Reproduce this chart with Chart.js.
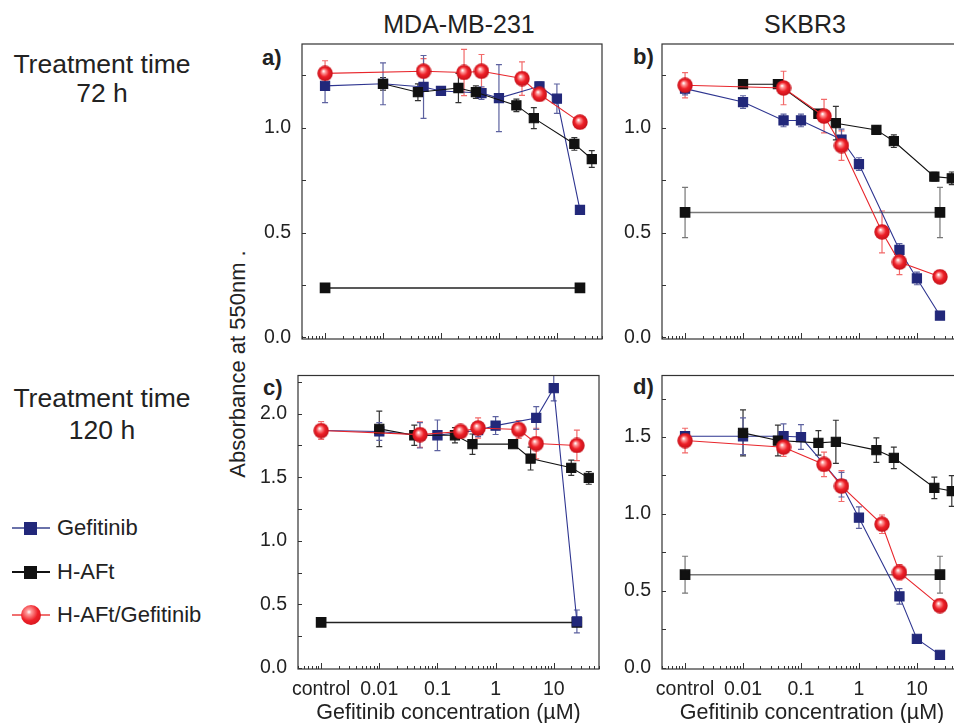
<!DOCTYPE html>
<html lang="en">
<head>
<meta charset="UTF-8">
<title>Absorbance vs Gefitinib concentration</title>
<script src="https://cdn.jsdelivr.net/npm/chart.js"></script>
<style>
  html, body { margin: 0; padding: 0; background: #fff; }
  body {
    width: 954px; height: 723px; overflow: hidden; position: relative;
    font-family: "Liberation Sans", Arial, Helvetica, sans-serif; color: #222;
  }
  .lbl { position: absolute; transform: translate(-50%, -50%); white-space: nowrap; line-height: 1; }
  .letter { position: absolute; font-weight: bold; font-size: 22px; line-height: 1; transform: translateY(-50%); }
  canvas { position: absolute; }
  .leg { position: absolute; left: 0; height: 0; }
  .leg .ln { position: absolute; left: 12px; width: 38px; height: 1.5px; top: -0.75px; }
  .leg .sq { position: absolute; left: 24px; width: 13px; height: 13px; top: -6.5px; }
  .leg .ball { position: absolute; left: 21px; width: 20px; height: 20px; top: -10px; border-radius: 50%;
    background: radial-gradient(circle at 40% 35%, #fff 0, #ff9a9a 14%, #ee2028 50%, #c4101a 100%); }
  .leg .txt { position: absolute; left: 57px; top: 0; transform: translateY(-50%); font-size: 22px; line-height: 1; white-space: nowrap; }
</style>
</head>
<body>
  <div class="lbl" style="left:459px; top:24px; font-size:25px;">MDA-MB-231</div>
  <div class="lbl" style="left:805px; top:24px; font-size:25px;">SKBR3</div>

  <div class="lbl" style="left:102px; top:64px; font-size:26.5px;">Treatment time</div>
  <div class="lbl" style="left:102px; top:93px; font-size:26.5px;">72 h</div>
  <div class="lbl" style="left:102px; top:398px; font-size:26.5px;">Treatment time</div>
  <div class="lbl" style="left:102px; top:430px; font-size:26.5px;">120 h</div>

  <div class="lbl" style="left:238px; top:364px; font-size:22px; transform:translate(-50%,-50%) rotate(-90deg);">Absorbance at 550nm .</div>

  <div class="letter" style="left:262px; top:58px;">a)</div>
  <div class="letter" style="left:633px; top:57px;">b)</div>
  <div class="letter" style="left:263px; top:388px;">c)</div>
  <div class="letter" style="left:633px; top:387px;">d)</div>

  <div class="leg" style="top:528px">
    <div class="ln" style="background:#6a72aa"></div><div class="sq" style="background:#22287a"></div>
    <div class="txt">Gefitinib</div>
  </div>
  <div class="leg" style="top:572px">
    <div class="ln" style="background:#111"></div><div class="sq" style="background:#111"></div>
    <div class="txt">H-AFt</div>
  </div>
  <div class="leg" style="top:615px">
    <div class="ln" style="background:#f07070"></div><div class="ball"></div>
    <div class="txt">H-AFt/Gefitinib</div>
  </div>

  <canvas id="pa" width="380" height="330" style="left:232px; top:24px;"></canvas>
  <canvas id="pb" width="380" height="330" style="left:592px; top:24px;"></canvas>
  <canvas id="pc" width="381" height="371" style="left:228px; top:355px;"></canvas>
  <canvas id="pd" width="380" height="371" style="left:592px; top:355px;"></canvas>

<script>
Chart.defaults.font.family = '"Liberation Sans", Arial, Helvetica, sans-serif';
Chart.defaults.color = '#222';

// "control" is plotted one decade below 0.01 on the log axis
const CONTROL = 0.001;

const gefDose = [CONTROL, 0.01, 0.05, 0.1, 0.5, 1, 5, 10, 25];
const haftDose = [0.01, 0.04, 0.2, 0.4, 2, 4, 20, 40];
const comboDose = [CONTROL, 0.05, 0.25, 0.5, 2.5, 5, 25];
const ctrlDose = [CONTROL, 25];

const xTickValues = [CONTROL, 0.01, 0.1, 1, 10];
const xTickLabels = ['control', '0.01', '0.1', '1', '10'];
const yMajorTop = [0, 0.5, 1.0];
const yMajorC = [0, 0.5, 1.0, 1.5, 2.0];
const yMajorD = [0, 0.5, 1.0, 1.5];

// a) MDA-MB-231, 72 h
const gefA = [1.20, 1.21, 1.195, 1.176, 1.166, 1.142, 1.198, 1.139, 0.608];
const gefAErr = [0.08, 0.10, 0.15, 0.02, 0.03, 0.16, 0.02, 0.07, 0.02];
const haftA = [1.21, 1.17, 1.19, 1.17, 1.107, 1.046, 0.923, 0.851];
const haftAErr = [0.03, 0.04, 0.07, 0.03, 0.03, 0.05, 0.03, 0.04];
const comboA = [1.26, 1.27, 1.264, 1.27, 1.235, 1.16, 1.027];
const comboAErr = [0.06, 0.06, 0.11, 0.08, 0.08, 0.03, 0];
const ctrlA = [0.236, 0.236];
const ctrlAErr = [0, 0];

// b) SKBR3, 72 h
const gefB = [1.187, 1.123, 1.035, 1.035, 0.944, 0.827, 0.417, 0.281, 0.104];
const gefBErr = [0.03, 0.03, 0.03, 0.03, 0.05, 0.03, 0.03, 0.03, 0];
const haftB = [1.208, 1.208, 1.067, 1.022, 0.99, 0.936, 0.767, 0.759];
const haftBErr = [0.02, 0.02, 0.02, 0.08, 0.02, 0.03, 0.02, 0.03];
const comboB = [1.203, 1.19, 1.056, 0.915, 0.503, 0.359, 0.289];
const comboBErr = [0.06, 0.08, 0.08, 0.07, 0.1, 0.06, 0.03];
const ctrlB = [0.596, 0.596];
const ctrlBErr = [0.12, 0.12];

// c) MDA-MB-231, 120 h
const gefC = [1.867, 1.86, 1.83, 1.83, 1.87, 1.906, 1.966, 2.20, 0.366];
const gefCErr = [0.03, 0.07, 0.1, 0.12, 0.05, 0.07, 0.09, 0.1, 0.09];
const haftC = [1.88, 1.83, 1.83, 1.76, 1.76, 1.647, 1.574, 1.495];
const haftCErr = [0.14, 0.08, 0.06, 0.08, 0.02, 0.09, 0.06, 0.05];
const comboC = [1.867, 1.835, 1.86, 1.887, 1.875, 1.765, 1.75];
const comboCErr = [0.07, 0.1, 0.04, 0.08, 0.07, 0.12, 0.12];
const ctrlC = [0.358, 0.358];
const ctrlCErr = [0, 0];

// d) SKBR3, 120 h
const gefD = [1.505, 1.505, 1.505, 1.50, 1.19, 0.976, 0.464, 0.188, 0.084];
const gefDErr = [0.03, 0.12, 0.08, 0.08, 0.08, 0.07, 0.05, 0, 0];
const haftD = [1.527, 1.477, 1.462, 1.469, 1.415, 1.365, 1.17, 1.149];
const haftDErr = [0.15, 0.1, 0.08, 0.14, 0.08, 0.07, 0.07, 0.1];
const comboD = [1.477, 1.434, 1.322, 1.181, 0.933, 0.62, 0.404];
const comboDErr = [0.08, 0.06, 0.08, 0.1, 0.06, 0.05, 0];
const ctrlD = [0.605, 0.605];
const ctrlDErr = [0.12, 0.12];

const X_MIN = 0.0004, X_MAX = 60;

// log axis ticks at 1..9 x 10^n
const xTicks = [];
for (let d = -4; d <= 1; d++) {
  for (let m = 1; m <= 9; m++) {
    const v = +(m * Math.pow(10, d)).toPrecision(3);
    if (v >= X_MIN && v <= X_MAX) xTicks.push(v);
  }
}
function isDecade(v) {
  const l = Math.log10(v);
  return Math.abs(l - Math.round(l)) < 1e-6;
}
function xLabel(v) {
  const i = xTickValues.findIndex(t => Math.abs(t - v) / t < 1e-6);
  return i >= 0 ? xTickLabels[i] : '';
}

function sphere(d) {
  const c = document.createElement('canvas');
  c.width = c.height = d;
  const g = c.getContext('2d');
  const r = d / 2;
  const grd = g.createRadialGradient(r * 0.8, r * 0.72, 0.4, r, r, r);
  grd.addColorStop(0, '#ffffff');
  grd.addColorStop(0.18, '#ff9c9c');
  grd.addColorStop(0.55, '#ee2028');
  grd.addColorStop(1, '#c20f18');
  g.fillStyle = grd;
  g.beginPath();
  g.arc(r, r, r - 0.3, 0, Math.PI * 2);
  g.fill();
  return c;
}
const ball = sphere(16);

const errorBars = {
  id: 'errorBars',
  beforeDatasetsDraw(chart) {
    const ctx = chart.ctx, y = chart.scales.y;
    chart.data.datasets.forEach((ds, i) => {
      if (!ds.errors) return;
      const meta = chart.getDatasetMeta(i);
      ctx.save();
      ctx.strokeStyle = ds.errorColor;
      ctx.lineWidth = 1.2;
      meta.data.forEach((pt, j) => {
        const e = ds.errors[j];
        if (!e) return;
        const v = ds.data[j].y;
        const top = y.getPixelForValue(v + e), bot = y.getPixelForValue(v - e);
        ctx.beginPath();
        ctx.moveTo(pt.x, top); ctx.lineTo(pt.x, bot);
        ctx.moveTo(pt.x - 3, top); ctx.lineTo(pt.x + 3, top);
        ctx.moveTo(pt.x - 3, bot); ctx.lineTo(pt.x + 3, bot);
        ctx.stroke();
      });
      ctx.restore();
    });
  }
};

const frame = {
  id: 'frame',
  afterDraw(chart) {
    const { ctx, chartArea: a } = chart;
    const x = chart.scales.x, y = chart.scales.y;
    ctx.save();
    ctx.strokeStyle = '#333';
    ctx.lineWidth = 1.2;
    ctx.strokeRect(a.left, a.top, a.right - a.left, a.bottom - a.top);
    ctx.lineWidth = 1;
    ctx.beginPath();
    x.ticks.forEach(t => {
      const px = Math.round(x.getPixelForValue(t.value)) + 0.5;
      ctx.moveTo(px, a.bottom);
      ctx.lineTo(px, a.bottom - (isDecade(t.value) ? 6 : 3));
    });
    y.ticks.forEach(t => {
      const py = Math.round(y.getPixelForValue(t.value)) + 0.5;
      ctx.moveTo(a.left, py);
      ctx.lineTo(a.left + 4, py);
    });
    ctx.stroke();
    ctx.restore();
  }
};

function pts(xs, ys) {
  return xs.map((x, i) => ({ x, y: ys[i] }));
}

function makePanel(id, area, yMax, yMajor, s, ctrlColor, showX) {
  const cv = document.getElementById(id);
  const box = { left: parseFloat(cv.style.left), top: parseFloat(cv.style.top), w: cv.width, h: cv.height };
  const yTicks = [];
  for (let v = 0; v <= yMax + 1e-9; v += 0.25) yTicks.push(+v.toFixed(2));

  const datasets = [
    {
      label: 'H-AFt/Gefitinib', data: pts(comboDose, s.combo), errors: s.comboErr, errorColor: '#f26a6a',
      borderColor: '#e8262c', borderWidth: 1.1, pointStyle: ball, pointRadius: 8, order: 0
    },
    {
      label: 'H-AFt', data: pts(haftDose, s.haft), errors: s.haftErr, errorColor: '#333',
      borderColor: '#111', borderWidth: 1.1, pointStyle: 'rect', pointRadius: 6.5,
      pointBackgroundColor: '#111', pointBorderColor: '#111', order: 1
    },
    {
      label: 'Gefitinib', data: pts(gefDose, s.gef), errors: s.gefErr, errorColor: '#5d62a0',
      borderColor: '#2e3590', borderWidth: 1.1, pointStyle: 'rect', pointRadius: 6.5,
      pointBackgroundColor: '#22287a', pointBorderColor: '#22287a', order: 2
    },
    {
      label: 'H-AFt control', data: pts(ctrlDose, s.ctrl), errors: s.ctrlErr, errorColor: ctrlColor,
      borderColor: ctrlColor, borderWidth: 1.5, pointStyle: 'rect', pointRadius: 6.5,
      pointBackgroundColor: '#111', pointBorderColor: '#111', order: 3
    }
  ].map(d => Object.assign({ showLine: true, tension: 0, clip: false }, d));

  return new Chart(cv, {
    type: 'scatter',
    data: { datasets },
    options: {
      responsive: false,
      animation: false,
      layout: { padding: { left: 0, top: area.top - box.top, right: box.left + box.w - area.right, bottom: 0 } },
      plugins: { legend: { display: false }, tooltip: { enabled: false } },
      scales: {
        x: {
          type: 'logarithmic', min: X_MIN, max: X_MAX,
          grid: { display: false }, border: { display: false },
          afterBuildTicks: sc => { sc.ticks = xTicks.map(v => ({ value: v })); },
          afterFit: sc => { sc.height = box.top + box.h - area.bottom; },
          ticks: {
            display: showX, autoSkip: false, maxRotation: 0, minRotation: 0, padding: 1,
            color: '#222', font: { size: 19.5 }, callback: v => xLabel(v)
          },
          title: {
            display: showX, text: 'Gefitinib concentration (µM)', color: '#222',
            font: { size: 21.5 }, padding: { top: 0, bottom: 0 }
          }
        },
        y: {
          min: -0.008, max: yMax,
          grid: { display: false }, border: { display: false },
          afterBuildTicks: sc => { sc.ticks = yTicks.map(v => ({ value: v })); },
          afterFit: sc => { sc.width = area.left - box.left; },
          ticks: {
            autoSkip: false, padding: 3, color: '#222', font: { size: 19.5 },
            callback: v => yMajor.some(m => Math.abs(m - v) < 1e-6) ? v.toFixed(1) : ''
          }
        }
      }
    },
    plugins: [errorBars, frame]
  });
}

makePanel('pa', { left: 302, top: 44, right: 602, bottom: 339 }, 1.4, yMajorTop,
  { gef: gefA, gefErr: gefAErr, haft: haftA, haftErr: haftAErr, combo: comboA, comboErr: comboAErr, ctrl: ctrlA, ctrlErr: ctrlAErr },
  '#222', false);
makePanel('pb', { left: 662, top: 44, right: 962, bottom: 339 }, 1.4, yMajorTop,
  { gef: gefB, gefErr: gefBErr, haft: haftB, haftErr: haftBErr, combo: comboB, comboErr: comboBErr, ctrl: ctrlB, ctrlErr: ctrlBErr },
  '#777', false);
makePanel('pc', { left: 298, top: 375.5, right: 599, bottom: 669 }, 2.3, yMajorC,
  { gef: gefC, gefErr: gefCErr, haft: haftC, haftErr: haftCErr, combo: comboC, comboErr: comboCErr, ctrl: ctrlC, ctrlErr: ctrlCErr },
  '#222', true);
makePanel('pd', { left: 662, top: 375.5, right: 962, bottom: 669 }, 1.9, yMajorD,
  { gef: gefD, gefErr: gefDErr, haft: haftD, haftErr: haftDErr, combo: comboD, comboErr: comboDErr, ctrl: ctrlD, ctrlErr: ctrlDErr },
  '#777', true);
</script>
</body>
</html>
